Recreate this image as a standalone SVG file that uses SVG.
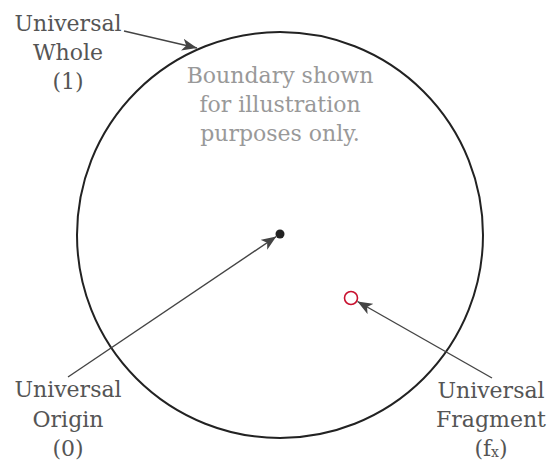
<svg xmlns="http://www.w3.org/2000/svg" width="548" height="461" viewBox="0 0 548 461">
<style>
.lbl{font-family:"DejaVu Serif","Liberation Serif",serif;font-size:22px;fill:#555;text-anchor:middle}
.note{font-family:"DejaVu Serif","Liberation Serif",serif;font-size:22px;fill:#999;text-anchor:middle}
.conn{stroke:#444;stroke-width:1.4;fill:none;marker-end:url(#ah)}
</style>
<defs>
<marker id="ah" markerWidth="16" markerHeight="12" refX="15" refY="6" orient="auto" markerUnits="userSpaceOnUse">
<path d="M0,0 L15,6 L0,12 L4,6 z" fill="#444"/>
</marker>
</defs>
<rect width="548" height="461" fill="#fff"/>
<g id="boundary">
<circle cx="280" cy="235" r="203" fill="none" stroke="#222" stroke-width="2"/>
<text class="note" x="280" y="83">Boundary shown</text>
<text class="note" x="280" y="112">for illustration</text>
<text class="note" x="280" y="141">purposes only.</text>
</g>
<g id="origin">
<circle cx="280" cy="234" r="4.5" fill="#222"/>
</g>
<g id="fragment">
<circle cx="351" cy="298" r="6.5" fill="none" stroke="#c8102e" stroke-width="1.6"/>
</g>
<g id="label-whole">
<text class="lbl" x="68" y="31">Universal</text>
<text class="lbl" x="68" y="60">Whole</text>
<text class="lbl" x="68" y="89">(1)</text>
</g>
<g id="label-origin">
<text class="lbl" x="68" y="397">Universal</text>
<text class="lbl" x="68" y="427">Origin</text>
<text class="lbl" x="68" y="456">(0)</text>
</g>
<g id="label-fragment">
<text class="lbl" x="491" y="398">Universal</text>
<text class="lbl" x="491" y="427">Fragment</text>
<text class="lbl" x="491" y="456">(f<tspan font-size="14" dy="1">x</tspan><tspan dy="-1">)</tspan></text>
</g>
<g id="connectors">
<line class="conn" x1="124" y1="31" x2="197" y2="48"/>
<line class="conn" x1="68" y1="377" x2="276.3" y2="236.5"/>
<line class="conn" x1="492" y1="378" x2="357.5" y2="301.5"/>
</g>
</svg>
